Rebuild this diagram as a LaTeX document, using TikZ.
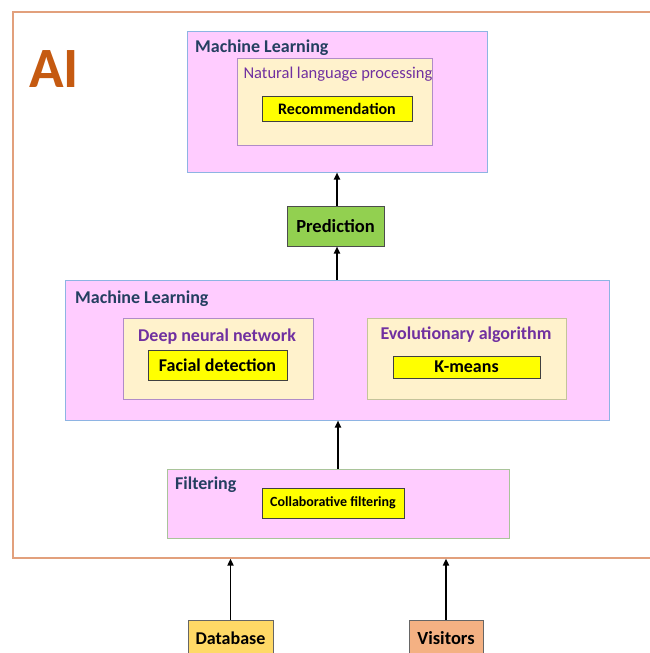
\documentclass[tikz,border=0pt]{standalone}
\usepackage{fontspec}
\setmainfont{Carlito}
\usetikzlibrary{arrows.meta}

\definecolor{mlpink}{HTML}{FFCCFF}
\definecolor{mlblue}{HTML}{8EB4E3}
\definecolor{cream}{HTML}{FFF2CC}
\definecolor{algline}{HTML}{B08CC8}
\definecolor{olive}{HTML}{C4C49A}
\definecolor{filtline}{HTML}{A9C49A}
\definecolor{taskyellow}{HTML}{FFFF00}
\definecolor{predgreen}{HTML}{92D050}
\definecolor{dbyellow}{HTML}{FFD966}
\definecolor{visorange}{HTML}{F4B183}
\definecolor{aiframe}{HTML}{E2A07C}
\definecolor{aitext}{HTML}{C55A11}
\definecolor{titleblue}{HTML}{243F60}
\definecolor{algpurple}{HTML}{7030A0}

\tikzset{
  box/.style={rectangle, inner sep=0pt},
  mlbox/.style={box, fill=mlpink, draw=mlblue, line width=1pt},
  algbox/.style={box, fill=cream, draw=algline, line width=1pt},
  taskbox/.style={box, fill=taskyellow, draw=black!75, line width=1pt, font=\bfseries\fontsize{18}{18}\selectfont},
  inputbox/.style={box, draw=black!60, line width=1pt},
  title/.style={anchor=north west, inner sep=0pt, text=titleblue, font=\bfseries\fontsize{18}{18}\selectfont},
  algtitle/.style={inner sep=0pt, text=algpurple, font=\bfseries\fontsize{18}{18}\selectfont},
  flow/.style={-{Triangle[width=6pt,length=7pt]}, line width=1.8pt},
}

\begin{document}
\begin{tikzpicture}[x=1pt, y=-1pt]
  \useasboundingbox (0,0) rectangle (649,653);

  % AI frame
  \node[box, draw=aiframe, line width=1.2pt, minimum width=660, minimum height=546] (ai) at (343,285) {};
  \node[anchor=north west, inner sep=0pt, text=aitext, font=\bfseries\fontsize{57}{57}\selectfont] (aitxt) at (29,50) {AI};

  % Machine learning (top)
  \node[mlbox, minimum width=300, minimum height=141] (mltop) at (337,101.5) {};
  \node[title] (mltoptxt) at (195,40) {Machine Learning};
  \node[algbox, minimum width=195, minimum height=87] (nlp) at (334.5,101.5) {};
  \node[inner sep=0pt, text=algpurple, font=\fontsize{16.5}{16.5}\selectfont] (nlptxt) at (338,74) {Natural language processing};
  \node[taskbox, minimum width=150, minimum height=25, font=\bfseries\fontsize{16}{16}\selectfont] (rec) at (337,108.5) {Recommendation};

  % Prediction
  \node[box, fill=predgreen, draw=black!70, line width=1pt, minimum width=97, minimum height=40, font=\bfseries\fontsize{18.5}{18.5}\selectfont] (pred) at (335.5,226) {Prediction};

  % Machine learning (middle)
  \node[mlbox, minimum width=544, minimum height=140] (mlmid) at (337,350) {};
  \node[title] (mlmidtxt) at (75,291) {Machine Learning};
  \node[algbox, minimum width=190, minimum height=81] (dnn) at (218,358.5) {};
  \node[algtitle] (dnntxt) at (217,337) {Deep neural network};
  \node[taskbox, minimum width=139, minimum height=30] (face) at (217.5,365) {Facial detection};
  \node[algbox, draw=olive, minimum width=199, minimum height=81] (evo) at (466.5,358.5) {};
  \node[algtitle] (evotxt) at (466,335) {Evolutionary algorithm};
  \node[taskbox, minimum width=147, minimum height=22] (kmeans) at (466.5,367) {K-means};

  % Filtering
  \node[box, fill=mlpink, draw=filtline, line width=1pt, minimum width=342, minimum height=69] (filt) at (338,503.5) {};
  \node[title] (filttxt) at (175,477) {Filtering};
  \node[taskbox, minimum width=142, minimum height=30, font=\bfseries\fontsize{14}{14}\selectfont] (collab) at (333,503) {Collaborative filtering};

  % Inputs
  \node[inputbox, fill=dbyellow, minimum width=85, minimum height=44] (db) at (230.5,642) {};
  \node[inner sep=0pt, font=\bfseries\fontsize{18}{18}\selectfont] (dbtxt) at (230.5,638) {Database};
  \node[inputbox, fill=visorange, minimum width=74, minimum height=44] (vis) at (446,642) {};
  \node[inner sep=0pt, font=\bfseries\fontsize{18.5}{18.5}\selectfont] (vistxt) at (446,638) {Visitors};

  % Arrows
  \draw[flow] (db.north) -- (db.north |- ai.south);
  \draw[flow] (vis.north) -- (vis.north |- ai.south);
  \draw[flow] (filt.north) -- (filt.north |- mlmid.south);
  \draw[flow] (mlmid.north) -- (mlmid.north |- pred.south);
  \draw[flow] (mltop.south |- pred.north) -- (mltop.south);
\end{tikzpicture}
\end{document}
